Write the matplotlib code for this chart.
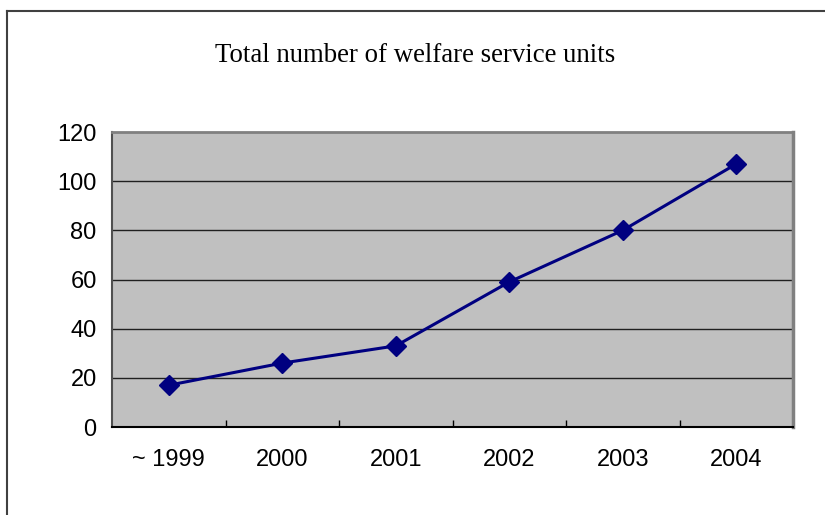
import matplotlib
matplotlib.use("Agg")
import matplotlib.pyplot as plt
from matplotlib.lines import Line2D

years = ["~ 1999", "2000", "2001", "2002", "2003", "2004"]
units = [17, 26, 33, 59, 80, 107]
yticks = [0, 20, 40, 60, 80, 100, 120]

fig = plt.figure(figsize=(8.25, 5.15), dpi=100)
fig.patch.set_facecolor("white")

# outer chart frame (only top and left edges fall inside the picture)
fig.add_artist(Line2D([7 / 825, 7 / 825], [0, 1 - 11 / 515], color="#404040", lw=1.5))
fig.add_artist(Line2D([7 / 825, 1], [1 - 11 / 515, 1 - 11 / 515], color="#404040", lw=1.5))

ax = fig.add_axes([112 / 825, 1 - 427 / 515, 681 / 825, 295 / 515])
ax.set_facecolor("#C0C0C0")

x = list(range(len(years)))
ax.plot(x, units, color="#000080", lw=2.2, marker="D", markersize=10,
        markerfacecolor="#000080", markeredgecolor="#000080", zorder=3)

ax.set_xlim(-0.5, len(years) - 0.5)
ax.set_ylim(0, 120)
ax.set_yticks(yticks)
ax.set_xticks(x)
ax.set_xticklabels(years)
ax.set_xticks([i + 0.5 for i in range(len(years))], minor=True)

for v in yticks[1:-1]:
    ax.axhline(v, color="#202020", lw=1, zorder=1)

ax.tick_params(axis="x", which="major", length=0, pad=16)
ax.tick_params(axis="x", which="minor", direction="in", length=5, width=1, color="black")
ax.tick_params(axis="y", length=0, pad=11)
for lab in ax.get_xticklabels() + ax.get_yticklabels():
    lab.set_fontfamily("Liberation Sans")
    lab.set_fontsize(17)

ax.spines["top"].set_color("#808080")
ax.spines["top"].set_linewidth(2)
ax.spines["right"].set_color("#808080")
ax.spines["right"].set_linewidth(2.5)
ax.spines["left"].set_color("#505050")
ax.spines["left"].set_linewidth(1.5)
ax.spines["bottom"].set_color("black")
ax.spines["bottom"].set_linewidth(1.5)

fig.text(415 / 825, 1 - 56 / 515, "Total number of welfare service units",
         ha="center", va="center", fontfamily="Liberation Serif", fontsize=19.3)

fig.savefig("out.png", dpi=100)
